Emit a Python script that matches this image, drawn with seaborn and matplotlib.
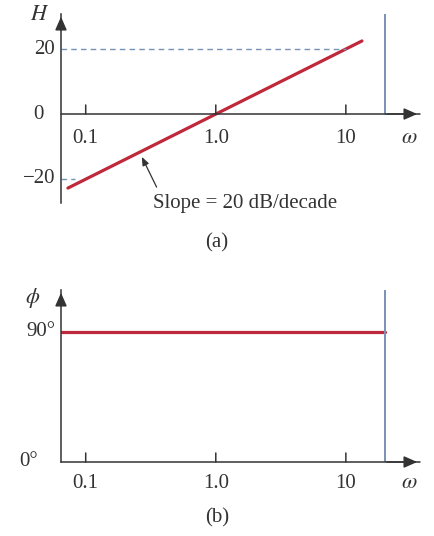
import matplotlib
matplotlib.use("Agg")
import matplotlib.pyplot as plt
import matplotlib.transforms as mtransforms
import seaborn as sns
import pandas as pd

# magnitude plot (a)
mag_omega = [0.073, 13.3]
mag_H = [-22.8, 22.5]
ref_levels = [20, -20]
ref_ends = [10.0, 0.082]

# phase plot (b)
phase_omega = [0.064, 20.0]
phase_phi = [90, 90]

omega_cut = 20.0
x_ticks = [0.1, 1.0, 10]
x_tick_labels = ["0.1", "1.0", "10"]
H_labels = ["20", "0", "\u221220"]
H_label_vals = [20, 0, -20]
phi_labels = ["90\u00b0", "0\u00b0"]
phi_label_vals = [90, 0]

RED = "#c0283c"
BLUE = "#7892b5"
DARK = "#333333"
FS = 15

sns.set_style("white")
plt.rcParams["font.family"] = ["Liberation Serif", "DejaVu Serif"]
plt.rcParams["mathtext.fontset"] = "stix"

fig = plt.figure(figsize=(4.35, 5.36), dpi=100)

W, H = 435.0, 536.0
XLIM = (10 ** -1.19, 10 ** 1.57)


def make_axes(top_px, bottom_px):
    ax = fig.add_axes([61 / W, 1 - bottom_px / H, (420 - 61) / W, (bottom_px - top_px) / H])
    ax.set_xscale("log")
    ax.set_xlim(*XLIM)
    for s in ["top", "right", "bottom"]:
        ax.spines[s].set_visible(False)
    ax.spines["left"].set_color(DARK)
    ax.spines["left"].set_linewidth(1.1)
    ax.set_xticks([])
    ax.set_yticks([])
    ax.minorticks_off()
    ax.patch.set_alpha(0)
    # y axis arrow
    ax.annotate("", xy=(0, 1.0), xytext=(0, 0.9), xycoords="axes fraction",
                arrowprops=dict(arrowstyle="-|>,head_length=0.5,head_width=0.22",
                                color=DARK, lw=1.1, mutation_scale=16))
    return ax


def draw_x_axis(ax, y0, label_drop):
    trans = mtransforms.blended_transform_factory(ax.transAxes, ax.transData)
    ax.plot([0, 1], [y0, y0], color=DARK, lw=1.1, transform=trans, clip_on=False)
    ax.annotate("", xy=(1.0, y0), xytext=(0.9, y0), xycoords=trans,
                arrowprops=dict(arrowstyle="-|>,head_length=0.5,head_width=0.22",
                                color=DARK, lw=1.1, mutation_scale=16))
    for t, lab in zip(x_ticks, x_tick_labels):
        ax.annotate("", xy=(t, y0), xytext=(0, 6.5), textcoords="offset points",
                    arrowprops=dict(arrowstyle="-", color=DARK, lw=1.1, shrinkA=0, shrinkB=0))
        ax.annotate(lab, xy=(t, y0), xytext=(0, -label_drop), textcoords="offset points",
                    ha="center", va="center", fontsize=FS, color=DARK)
    ax.annotate("$\\omega$", xy=(31, y0), xytext=(0, -label_drop), textcoords="offset points",
                ha="center", va="center", fontsize=FS + 1, color=DARK)


# ---- (a) magnitude ----
ax1 = make_axes(14, 203)
ax1.set_ylim(-27.4, 30.8)
df_mag = pd.DataFrame({"omega": mag_omega, "H": mag_H})
sns.lineplot(data=df_mag, x="omega", y="H", color=RED, lw=2.3, ax=ax1)
for lvl, end in zip(ref_levels, ref_ends):
    ax1.plot([XLIM[0], end], [lvl, lvl], ls=(0, (4, 3)), color=BLUE, lw=1.0)
ax1.plot([omega_cut, omega_cut], [0, 30.8], color=BLUE, lw=1.4)
draw_x_axis(ax1, 0, 17.5)
ax1.set_xlabel("")
ax1.set_ylabel("")
for lab, v in zip(H_labels, H_label_vals):
    off = -4.3 if v != 0 else -12.5
    ax1.annotate(lab, xy=(0, v), xycoords=("axes fraction", "data"), xytext=(off, 0),
                 textcoords="offset points", ha="right", va="center", fontsize=FS, color=DARK)
fig.text(40 / W, 1 - 15 / H, "$H$", ha="center", va="center", fontsize=FS + 1, color=DARK)
ax1.annotate("Slope = 20 dB/decade", xy=(0.27, -13.2), xytext=(1.67, -27.6),
             ha="center", va="center", fontsize=FS, color=DARK, annotation_clip=False,
             arrowprops=dict(arrowstyle="-|>,head_length=0.5,head_width=0.2", color=DARK,
                             lw=0.9, mutation_scale=10,
                             relpos=(0.04, 1.0), shrinkA=3, shrinkB=0))
fig.text(217 / W, 1 - 243 / H, "(a)", ha="center", va="center", fontsize=FS, color=DARK)

# ---- (b) phase ----
ax2 = make_axes(290, 462)
ax2.set_ylim(0, 119)
df_ph = pd.DataFrame({"omega": phase_omega, "phi": phase_phi})
sns.lineplot(data=df_ph, x="omega", y="phi", color=RED, lw=2.3, ax=ax2)
ax2.plot([omega_cut, omega_cut], [0, 119], color=BLUE, lw=1.4)
draw_x_axis(ax2, 0, 15.5)
ax2.set_xlabel("")
ax2.set_ylabel("")
for lab, v in zip(phi_labels, phi_label_vals):
    off = -4.3 if v != 0 else -17
    ax2.annotate(lab, xy=(0, v), xycoords=("axes fraction", "data"), xytext=(off, 0),
                 textcoords="offset points", ha="right", va="center", fontsize=FS, color=DARK)
fig.text(33 / W, 1 - 298 / H, "$\\phi$", ha="center", va="center", fontsize=FS + 1, color=DARK)
fig.text(217 / W, 1 - 518 / H, "(b)", ha="center", va="center", fontsize=FS, color=DARK)

fig.savefig("out.png", dpi=100)
